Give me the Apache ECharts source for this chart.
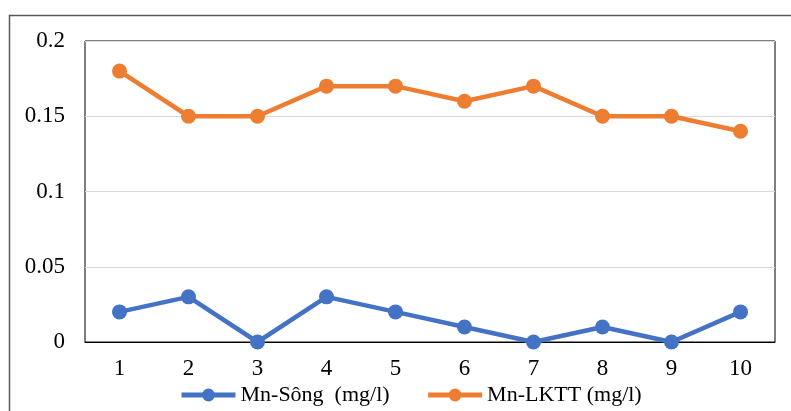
<!DOCTYPE html>
<html><head><meta charset="utf-8">
<script src="https://cdn.jsdelivr.net/npm/echarts@6/dist/echarts.min.js"></script>
<style>html,body{margin:0;padding:0;background:#fff}#c{width:791px;height:411px}</style>
</head><body><div id="c"></div>
<script>
var categories = ['1','2','3','4','5','6','7','8','9','10'];
var mnSong = [0.02, 0.03, 0, 0.03, 0.02, 0.01, 0, 0.01, 0, 0.02];
var mnLKTT = [0.18, 0.15, 0.15, 0.17, 0.17, 0.16, 0.17, 0.15, 0.15, 0.14];
var seriesNames = ['Mn-Sông  (mg/l)', 'Mn-LKTT (mg/l)'];
var font = '"Liberation Serif", "Times New Roman", serif';
var chart = echarts.init(document.getElementById('c'));
chart.setOption({
  animation: false,
  graphic: [{type:'rect', shape:{x:9.5,y:15.5,width:800,height:420}, style:{fill:'none', stroke:'#595959', lineWidth:1.5}, silent:true, z:-1}],
  grid: {left:85, right:16, top:41, bottom:69, show:true, borderColor:'#000', borderWidth:1, backgroundColor:'transparent'},
  legend: {
    bottom: 0, left: 174, itemWidth: 54, itemHeight: 16, itemGap: 36,
    textStyle: {fontFamily: font, fontSize: 22, color:'#000'},
    lineStyle: {width: 5},
    data: seriesNames
  },
  xAxis: {
    type:'category', data: categories, boundaryGap:true,
    axisLine:{show:true, lineStyle:{color:'#000'}}, axisTick:{show:false},
    axisLabel:{fontFamily: font, fontSize: 23, color:'#000', margin:15}
  },
  yAxis: {
    type:'value', min:0, max:0.2, interval:0.05,
    axisLine:{show:false}, axisTick:{show:false},
    splitLine:{lineStyle:{color:'#d9d9d9', width:1}},
    axisLabel:{fontFamily: font, fontSize: 23, color:'#000', margin:20}
  },
  series: [
    {name: seriesNames[0], type:'line', data: mnSong, symbol:'circle', symbolSize:15,
     itemStyle:{color:'#4472C4'}, lineStyle:{color:'#4472C4', width:4.5}},
    {name: seriesNames[1], type:'line', data: mnLKTT, symbol:'circle', symbolSize:15,
     itemStyle:{color:'#ED7D31'}, lineStyle:{color:'#ED7D31', width:4.5}}
  ]
});
</script></body></html>
